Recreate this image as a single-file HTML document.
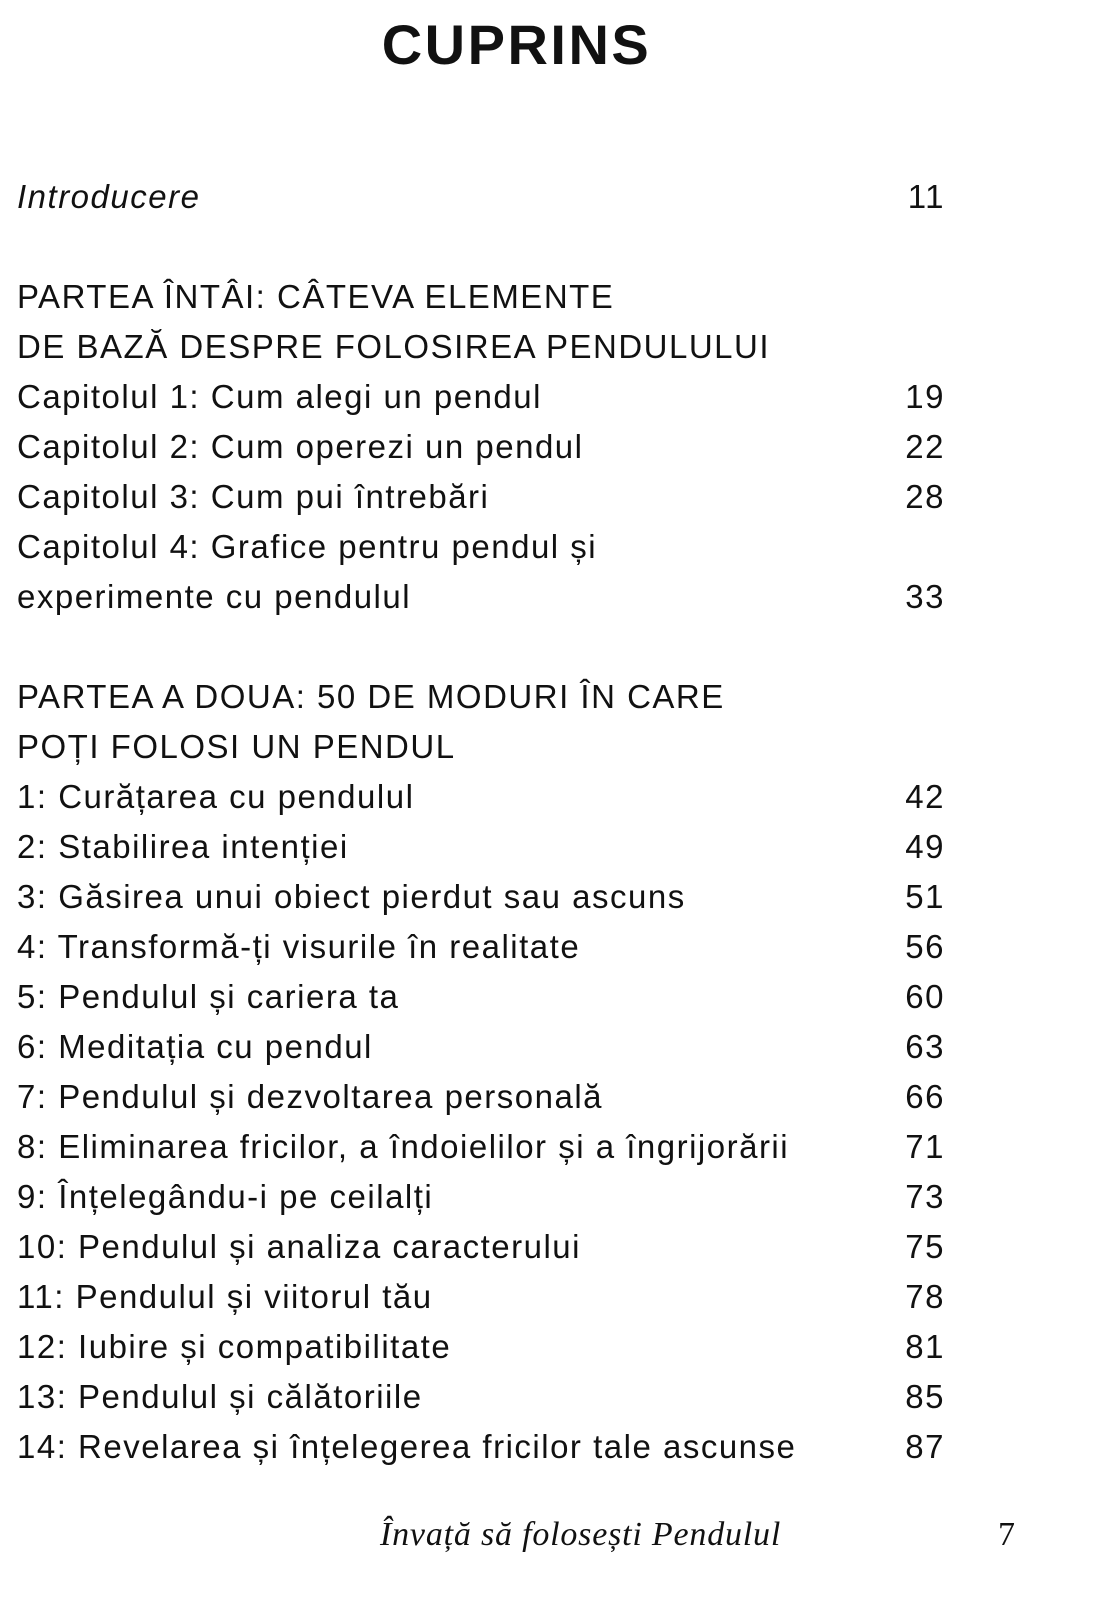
<!DOCTYPE html>
<html><head><meta charset="utf-8"><style>
body{margin:0;background:#fff;}
.p{position:relative;width:1097px;height:1600px;overflow:hidden;font-family:"Liberation Sans",sans-serif;color:#111;}
h1{position:absolute;top:10px;left:0;width:1033px;text-align:center;margin:0;font-size:56px;font-weight:bold;letter-spacing:2.5px;line-height:70px;}
.l{position:absolute;left:17px;width:928px;height:50px;line-height:50px;font-size:33px;letter-spacing:1.5px;white-space:nowrap;}
.l span{position:absolute;right:0;top:0;}
.f{position:absolute;top:1512px;font-family:"Liberation Serif",serif;font-size:34px;line-height:46px;}
</style></head><body><div class="p">
<h1>CUPRINS</h1>
<div class="l" style="top:172px;font-style:italic">Introducere<span style="font-style:normal">11</span></div>
<div class="l" style="top:272px">PARTEA ÎNTÂI: CÂTEVA ELEMENTE</div>
<div class="l" style="top:322px">DE BAZĂ DESPRE FOLOSIREA PENDULULUI</div>
<div class="l" style="top:372px">Capitolul 1: Cum alegi un pendul<span>19</span></div>
<div class="l" style="top:422px">Capitolul 2: Cum operezi un pendul<span>22</span></div>
<div class="l" style="top:472px">Capitolul 3: Cum pui întrebări<span>28</span></div>
<div class="l" style="top:522px">Capitolul 4: Grafice pentru pendul și</div>
<div class="l" style="top:572px">experimente cu pendulul<span>33</span></div>
<div class="l" style="top:672px">PARTEA A DOUA: 50 DE MODURI ÎN CARE</div>
<div class="l" style="top:722px">POȚI FOLOSI UN PENDUL</div>
<div class="l" style="top:772px">1: Curățarea cu pendulul<span>42</span></div>
<div class="l" style="top:822px">2: Stabilirea intenției<span>49</span></div>
<div class="l" style="top:872px">3: Găsirea unui obiect pierdut sau ascuns<span>51</span></div>
<div class="l" style="top:922px">4: Transformă-ți visurile în realitate<span>56</span></div>
<div class="l" style="top:972px">5: Pendulul și cariera ta<span>60</span></div>
<div class="l" style="top:1022px">6: Meditația cu pendul<span>63</span></div>
<div class="l" style="top:1072px">7: Pendulul și dezvoltarea personală<span>66</span></div>
<div class="l" style="top:1122px">8: Eliminarea fricilor, a îndoielilor și a îngrijorării<span>71</span></div>
<div class="l" style="top:1172px">9: Înțelegându-i pe ceilalți<span>73</span></div>
<div class="l" style="top:1222px">10: Pendulul și analiza caracterului<span>75</span></div>
<div class="l" style="top:1272px">11: Pendulul și viitorul tău<span>78</span></div>
<div class="l" style="top:1322px">12: Iubire și compatibilitate<span>81</span></div>
<div class="l" style="top:1372px">13: Pendulul și călătoriile<span>85</span></div>
<div class="l" style="top:1422px">14: Revelarea și înțelegerea fricilor tale ascunse<span>87</span></div>
<div class="f" style="left:380px;font-style:italic;letter-spacing:0.8px">Învață să folosești Pendulul</div>
<div class="f" style="left:998px">7</div>
</div></body></html>
